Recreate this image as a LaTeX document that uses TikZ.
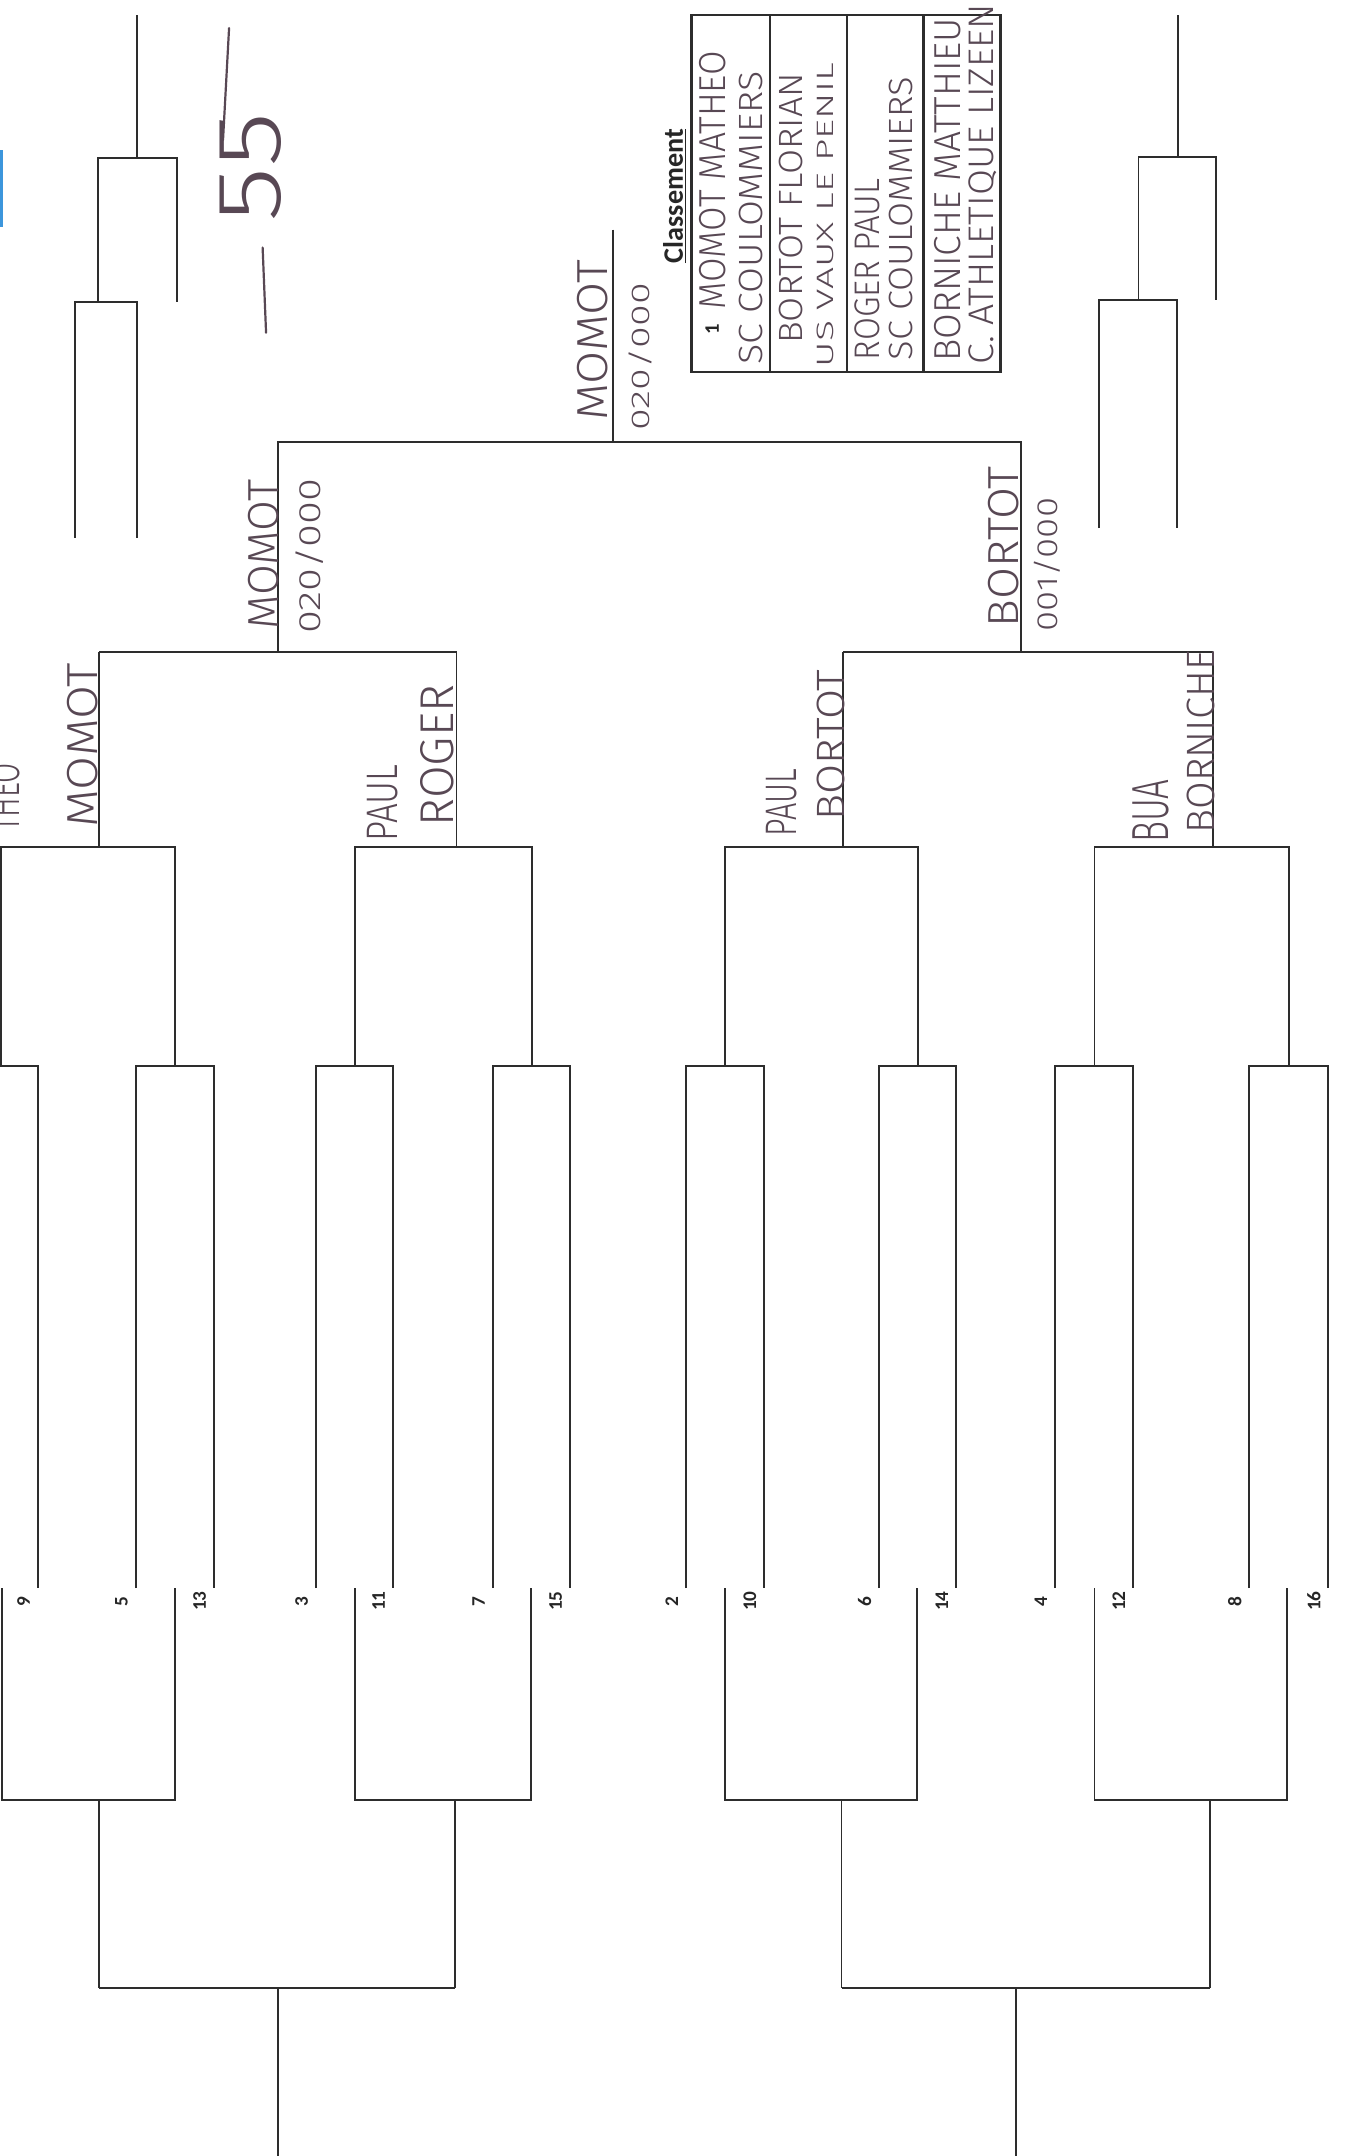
\documentclass[tikz,border=0pt]{standalone}
\usepackage{fontspec}
\usepackage{graphicx}
\setmainfont{Carlito}
\IfFontExistsTF{Fira Sans Light}{\newfontfamily\handfont{Fira Sans Light}}{\newfontfamily\handfont{Liberation Sans}}
\definecolor{handcol}{RGB}{88,72,84}
\definecolor{linecol}{RGB}{45,45,45}
\definecolor{bluemark}{RGB}{60,150,220}
\newcommand{\hwt}[3]{\resizebox{#1pt}{#2pt}{\handfont #3}}
\newcommand{\brk}[6]{\draw[br] (#1,#4) -- (#1,#3) -- (#2,#3) -- (#2,#4); \draw[br] (#5,#3) -- (#5,#6);}
\tikzset{
  br/.style={draw=linecol, line width=1.4pt},
  boxline/.style={draw=linecol, line width=1.8pt},
  hand/.style={text=handcol, inner sep=0pt, rotate=90},
  handline/.style={draw=handcol, line width=1.6pt, line cap=round},
  num/.style={text=black!85, inner sep=0pt, rotate=90, font=\bfseries\fontsize{14}{16}\selectfont},
}
\begin{document}
\begin{tikzpicture}[x=1pt,y=-1pt]
\useasboundingbox (0,0) rectangle (982,1568);
\fill[white] (0,0) rectangle (982,1568);
\clip (0,0) rectangle (982,1568);

% blue mark at left edge
\fill[bluemark] (0,109) rectangle (2.5,165);

% ---- top small brackets
\draw[br] (99.7,11) -- (99.7,115);
\draw[br] (71.3,219.7) -- (71.3,115) -- (128.8,115) -- (128.8,219.7);
\draw[br] (54.6,391) -- (54.6,219.7) -- (99.7,219.7) -- (99.7,391);
\draw[br] (857,11) -- (857,114.2);
\draw[br] (828,218.2) -- (828,114.2) -- (884.5,114.2) -- (884.5,218.2);
\draw[br] (799.5,384) -- (799.5,218.2) -- (856.2,218.2) -- (856.2,384);

% ---- final and semis
\draw[br] (446,167) -- (446,321.5);
\draw[br] (202.5,474.5) -- (202.5,321.5) -- (742.5,321.5) -- (742.5,474.5);
\draw[br] (72,474.5) -- (332,474.5);
\draw[br] (613,474.5) -- (882,474.5);

% ---- round of 16 (upper)
\brk{0.5}{127.3}{616}{775}{72}{474.5}
\brk{258}{386.8}{616}{775}{332}{474.5}
\brk{527.4}{667.4}{616}{775}{613}{474.5}
\brk{796}{937.3}{616}{775}{882}{474.5}

% ---- first round slots
\foreach \a/\b in {-29/27.6, 98.9/155.7, 229.9/285.9, 358.6/414.6, 499/555.8, 639.4/695.4, 767.5/824.2, 908.6/966}
  \draw[br] (\a,1155) -- (\a,775) -- (\b,775) -- (\b,1155);

% ---- seed numbers
\foreach \x/\n in {27.6/9, 98.9/5, 155.7/13, 229.9/3, 285.9/11, 358.6/7, 414.6/15, 499/2, 555.8/10, 639.4/6, 695.4/14, 767.5/4, 824.2/12, 908.6/8, 966/16}
  \node[num] (seed\n) at (\x-10.5,1164.5) {\n};

% ---- lower mirrored brackets
\brk{1.6}{127}{1309}{1155}{72}{1446}
\brk{258}{386}{1309}{1155}{331}{1446}
\brk{527}{667}{1309}{1155}{612}{1446}
\brk{796}{936}{1309}{1155}{880}{1446}
\draw[br] (72,1446) -- (331,1446);
\draw[br] (202,1446) -- (202,1568);
\draw[br] (612,1446) -- (880,1446);
\draw[br] (739,1446) -- (739,1568);

% ---- Classement box
\draw[boxline] (503,11) rectangle (727.5,270.6);
\draw[boxline] (560,11) -- (560,270.6);
\draw[boxline] (616,11) -- (616,270.6);
\draw[boxline] (671.5,11) -- (671.5,270.6);
\node[inner sep=0pt, rotate=90, font=\bfseries\fontsize{20.5}{24}\selectfont, text=black!85] (title) at (490.5,142.6) {\underline{Classement}};
\node[inner sep=0pt, rotate=90, font=\bfseries\fontsize{15}{17}\selectfont, text=black!85] (rank1) at (518,239.5) {1};
\node[hand] (c1a) at (518,131) {\hwt{188}{19}{MOMOT MATHEO}};
\node[hand] (c1b) at (546,158.5) {\hwt{213}{17}{SC COULOMMIERS}};
\node[hand] (c2a) at (575,151.5) {\hwt{197}{17}{BORTOT FLORIAN}};
\node[hand] (c2b) at (600,156.5) {\hwt{221}{12}{US VAUX LE PENIL}};
\node[hand] (c3a) at (631,196) {\hwt{132}{18}{ROGER PAUL}};
\node[hand] (c3b) at (655,159) {\hwt{206}{17}{SC COULOMMIERS}};
\node[hand] (c4a) at (689,138) {\hwt{250}{19}{BORNICHE MATTHIEU}};
\node[hand] (c4b) at (715,134) {\hwt{262}{18}{C. ATHLETIQUE LIZEEN}};

% ---- handwritten results
\node[hand] (f1) at (431,247.5) {\hwt{117}{22}{MOMOT}};
\node[hand] (f2) at (465.5,259.5) {\hwt{107}{15}{020/000}};
\node[hand] (ls1) at (191.5,403.5) {\hwt{109}{22}{MOMOT}};
\node[hand] (ls2) at (225.5,404.5) {\hwt{113}{18}{020/000}};
\node[hand] (rs1) at (730,397.5) {\hwt{117}{22}{BORTOT}};
\node[hand] (rs2) at (762,410.5) {\hwt{97}{17}{001/000}};
\node[hand] (a0) at (3,580) {\hwt{50}{22}{THEO}};
\node[hand] (a1) at (60,542) {\hwt{120}{22}{MOMOT}};
\node[hand] (b1) at (278,584) {\hwt{56}{22}{PAUL}};
\node[hand] (b2) at (318,549.5) {\hwt{103}{24}{ROGER}};
\node[hand] (cc1) at (568.5,583.5) {\hwt{49}{22}{PAUL}};
\node[hand] (cc2) at (604.5,542) {\hwt{110}{20}{BORTOT}};
\node[hand] (d1) at (837,590) {\hwt{46}{26}{BUA}};
\node[hand] (d2) at (873.5,539.5) {\hwt{133}{20}{BORNICHE}};

% ---- "-55" mark
\node[hand] (mark) at (182,122) {\hwt{80}{44}{55}};
\draw[handline] (191,180) -- (193.5,242);
\draw[handline] (166.6,20.4) -- (162.2,101.8);
\end{tikzpicture}
\end{document}
